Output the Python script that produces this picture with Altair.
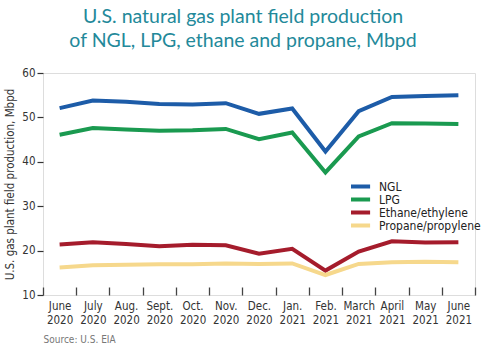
import altair as alt
import pandas as pd

months = ["June\n2020", "July\n2020", "Aug.\n2020", "Sept.\n2020", "Oct.\n2020", "Nov.\n2020",
          "Dec.\n2020", "Jan.\n2021", "Feb.\n2021", "March\n2021", "April\n2021", "May\n2021", "June\n2021"]
ngl = [52.1, 53.8, 53.5, 53.0, 52.9, 53.2, 50.8, 52.0, 42.3, 51.4, 54.6, 54.8, 55.0]
lpg = [46.1, 47.6, 47.3, 47.0, 47.1, 47.4, 45.1, 46.6, 37.6, 45.7, 48.7, 48.6, 48.5]
ethane = [21.4, 21.9, 21.5, 21.0, 21.3, 21.2, 19.3, 20.4, 15.5, 19.8, 22.1, 21.8, 21.9]
propane = [16.2, 16.7, 16.8, 16.9, 16.9, 17.1, 17.0, 17.1, 14.5, 17.0, 17.4, 17.5, 17.4]

series_names = ["NGL", "LPG", "Ethane/ethylene", "Propane/propylene"]
series_colors = ["#1d5ca8", "#1a9a50", "#a51c2c", "#f6d88c"]

rows = []
for name, vals in zip(series_names, [ngl, lpg, ethane, propane]):
    for m, v in zip(months, vals):
        rows.append({"month": m, "series": name, "value": v})
df = pd.DataFrame(rows)

FONT = "'DejaVu Sans Condensed', 'Liberation Sans Narrow', 'Roboto Condensed', 'Liberation Sans', sans-serif"

x_scale = alt.Scale(domain=months, paddingInner=0, paddingOuter=0)

chart = alt.Chart(df).mark_line(strokeWidth=4).encode(
    x=alt.X("month:N", scale=x_scale, sort=months,
            axis=alt.Axis(title="Source: U.S. EIA", titleAnchor="start", titleAlign="left",
                          titleX=0, titleY=47, titleFontSize=10, titleColor="#777777",
                          titleFontWeight="normal", titleFont=FONT,
                          labelAngle=0, labelFontSize=11.5, labelColor="#333333", labelFont=FONT,
                          labelPadding=5, labelLineHeight=14, domain=False,
                          offset=-8, ticks=True, tickSize=8, tickBand="extent",
                          tickColor="#444444", tickWidth=1.3,
                          labelOverlap=False,
                          labelExpr="split(datum.label, '\\n')")),
    y=alt.Y("value:Q", scale=alt.Scale(domain=[10, 60], nice=False),
            axis=alt.Axis(values=[10, 20, 30, 40, 50, 60], title="U.S. gas plant field production, Mbpd",
                          titleFontSize=11.5, titleFont=FONT, titleColor="#333333", titleFontWeight="normal",
                          titlePadding=6, labelFontSize=11.5, labelFont=FONT, labelColor="#333333",
                          tickSize=6, tickColor="#333333", tickWidth=1.2, labelPadding=2,
                          grid=False, domain=False)),
    color=alt.Color("series:N", scale=alt.Scale(domain=series_names, range=series_colors),
                    legend=alt.Legend(title=None, orient="none", legendX=308, legendY=107,
                                      symbolType="M-1.85,0H1.85", symbolStrokeWidth=4, symbolSize=144,
                                      labelFontSize=12, labelFont=FONT, labelColor="#222222",
                                      labelFontWeight="normal", rowPadding=-2, labelOffset=12,
                                      clipHeight=13,
                                      symbolOpacity=1, labelLimit=0)),
    order=alt.Order("series:N")
).properties(
    width=432, height=222,
    title=alt.TitleParams(text=["U.S. natural gas plant field production", "of NGL, LPG, ethane and propane, Mbpd"],
                          font="Lato", fontSize=19.5, fontWeight="normal", color="#23899a",
                          anchor="middle", dx=-16, offset=16, lineHeight=24),
    autosize="none",
    padding={"left": 43, "top": 73, "right": 23, "bottom": 55}
).configure_view(stroke="#333333", strokeWidth=1.5).configure(background="white")

chart.save("out.html", embed_options={"renderer": "svg", "actions": False})
